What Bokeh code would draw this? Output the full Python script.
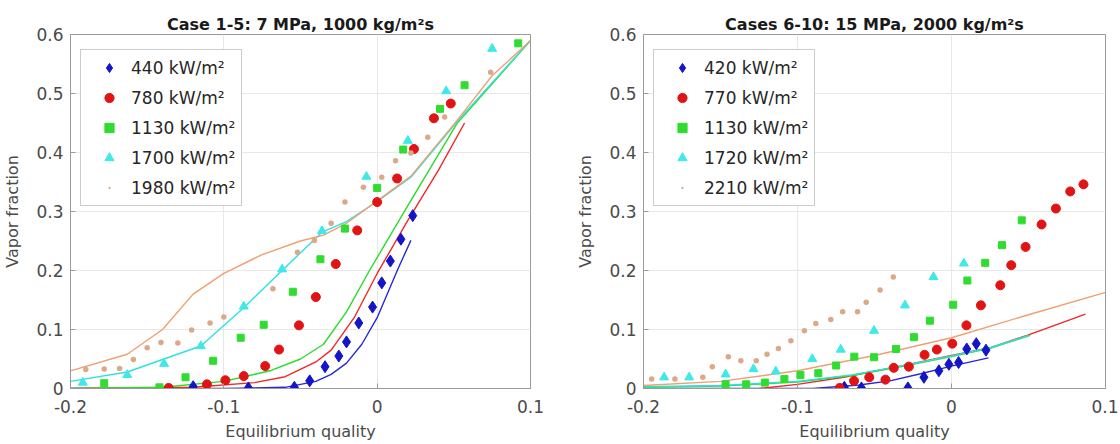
from bokeh.plotting import figure
from bokeh.layouts import row
from bokeh.models import Range1d, FixedTicker, CustomJSTickFormatter, Legend, LegendItem
from bokeh.embed import file_html
from bokeh.resources import INLINE

# ---------------- Left panel: Case 1-5 (7 MPa, 1000 kg/m2s) ----------------
L_title = "Case 1-5: 7 MPa, 1000 kg/m²s"
L_labels = ["440 kW/m²", "780 kW/m²", "1130 kW/m²", "1700 kW/m²", "1980 kW/m²"]

L_blue_x = [-0.120, -0.084, -0.054, -0.044, -0.034, -0.025, -0.020, -0.012, -0.003, 0.003, 0.0086, 0.0155, 0.0232]
L_blue_y = [0.003, 0.001, 0.002, 0.013, 0.037, 0.055, 0.079, 0.111, 0.138, 0.179, 0.216, 0.253, 0.293]
L_red_x = [-0.136, -0.111, -0.099, -0.087, -0.073, -0.064, -0.051, -0.040, -0.027, -0.013, 0.000, 0.013, 0.024, 0.037, 0.048]
L_red_y = [0.001, 0.007, 0.014, 0.021, 0.038, 0.066, 0.107, 0.155, 0.211, 0.268, 0.316, 0.356, 0.406, 0.458, 0.483]
L_green_x = [-0.178, -0.142, -0.125, -0.107, -0.089, -0.074, -0.055, -0.037, -0.021, 0.000, 0.017, 0.041, 0.057, 0.092]
L_green_y = [0.009, 0.002, 0.019, 0.047, 0.086, 0.108, 0.164, 0.219, 0.271, 0.340, 0.405, 0.474, 0.514, 0.585]
L_cyan_x = [-0.192, -0.163, -0.139, -0.115, -0.087, -0.062, -0.036, -0.007, 0.020, 0.045, 0.075]
L_cyan_y = [0.010, 0.023, 0.042, 0.072, 0.139, 0.202, 0.267, 0.359, 0.420, 0.504, 0.576]
L_tan_x = [-0.190, -0.178, -0.168, -0.159, -0.150, -0.141, -0.130, -0.121, -0.109, -0.100, -0.068, -0.052, -0.041, -0.030, -0.021, -0.009, 0.003, 0.012, 0.022, 0.033, 0.044, 0.074]
L_tan_y = [0.032, 0.033, 0.034, 0.049, 0.069, 0.078, 0.077, 0.099, 0.111, 0.121, 0.169, 0.231, 0.251, 0.280, 0.316, 0.341, 0.358, 0.386, 0.399, 0.426, 0.460, 0.536]

L_blue_line_x = [-0.2, -0.1, -0.06, -0.04, -0.03, -0.02, -0.01, 0.0, 0.0136, 0.022]
L_blue_line_y = [0.0, 0.0, 0.002, 0.012, 0.024, 0.043, 0.075, 0.12, 0.203, 0.251]
L_red_line_x = [-0.2, -0.12, -0.08, -0.06, -0.04, -0.03, -0.015, 0.0, 0.02, 0.04, 0.057]
L_red_line_y = [0.0, 0.002, 0.01, 0.02, 0.045, 0.065, 0.12, 0.195, 0.285, 0.37, 0.45]
L_green_line_x = [-0.2, -0.14, -0.1, -0.07, -0.05, -0.035, -0.02, -0.005, 0.02, 0.052, 0.1]
L_green_line_y = [0.0, 0.002, 0.012, 0.03, 0.05, 0.075, 0.13, 0.2, 0.31, 0.449, 0.59]
L_cyan_line_x = [-0.2, -0.163, -0.115, -0.087, -0.062, -0.036, -0.02, 0.0, 0.022, 0.052, 0.1]
L_cyan_line_y = [0.012, 0.028, 0.072, 0.137, 0.2, 0.265, 0.283, 0.317, 0.358, 0.452, 0.59]
L_tan_line_x = [-0.2, -0.163, -0.14, -0.12, -0.1, -0.075, -0.05, -0.035, -0.02, 0.0, 0.022, 0.052, 0.075, 0.1]
L_tan_line_y = [0.03, 0.058, 0.1, 0.16, 0.195, 0.227, 0.25, 0.26, 0.28, 0.318, 0.36, 0.454, 0.53, 0.59]

# ---------------- Right panel: Cases 6-10 (15 MPa, 2000 kg/m2s) ----------------
R_title = "Cases 6-10: 15 MPa, 2000 kg/m²s"
R_labels = ["420 kW/m²", "770 kW/m²", "1130 kW/m²", "1720 kW/m²", "2210 kW/m²"]

R_blue_x = [-0.0696, -0.0585, -0.0283, -0.0179, -0.0082, -0.0017, 0.0046, 0.0099, 0.0161, 0.0224]
R_blue_y = [0.002, 0.001, 0.001, 0.019, 0.030, 0.041, 0.044, 0.067, 0.076, 0.065]
R_red_x = [-0.0726, -0.0633, -0.0534, -0.0429, -0.0375, -0.0277, -0.0175, -0.0095, 0.0005, 0.0097, 0.0191, 0.0317, 0.0388, 0.0481, 0.0585, 0.0678, 0.0771, 0.0857]
R_red_y = [0.001, 0.013, 0.019, 0.015, 0.035, 0.037, 0.057, 0.066, 0.076, 0.107, 0.141, 0.175, 0.209, 0.240, 0.278, 0.305, 0.334, 0.346]
R_green_x = [-0.1467, -0.1333, -0.1212, -0.1085, -0.0981, -0.0865, -0.0749, -0.0631, -0.0503, -0.036, -0.0244, -0.014, 0.0011, 0.0103, 0.0219, 0.0328, 0.0456]
R_green_y = [0.007, 0.007, 0.010, 0.016, 0.023, 0.026, 0.039, 0.054, 0.053, 0.067, 0.087, 0.115, 0.142, 0.183, 0.213, 0.243, 0.285]
R_cyan_x = [-0.1866, -0.1703, -0.1467, -0.1286, -0.1141, -0.0904, -0.0719, -0.0503, -0.0302, -0.0117, 0.0080]
R_cyan_y = [0.019, 0.019, 0.024, 0.033, 0.029, 0.050, 0.066, 0.098, 0.141, 0.189, 0.212]
R_tan_x = [-0.1947, -0.1796, -0.1615, -0.1553, -0.1449, -0.1368, -0.1268, -0.1198, -0.1124, -0.1043, -0.0955, -0.0881, -0.0784, -0.0707, -0.0610, -0.0554, -0.0464, -0.0378]
R_tan_y = [0.016, 0.016, 0.019, 0.037, 0.054, 0.047, 0.047, 0.058, 0.068, 0.081, 0.098, 0.110, 0.117, 0.130, 0.130, 0.146, 0.167, 0.189]

R_blue_line_x = [-0.2, -0.09, -0.06, -0.04, -0.02, 0.0, 0.024]
R_blue_line_y = [0.0, 0.0, 0.006, 0.013, 0.025, 0.038, 0.052]
R_red_line_x = [-0.125, -0.1, -0.07, -0.035, 0.0, 0.025, 0.05, 0.087]
R_red_line_y = [0.0, 0.007, 0.019, 0.037, 0.056, 0.069, 0.091, 0.126]
R_green_line_x = [-0.2, -0.15, -0.1, -0.065, -0.035, 0.0, 0.025, 0.051]
R_green_line_y = [0.002, 0.004, 0.011, 0.022, 0.036, 0.054, 0.068, 0.09]
R_cyan_line_x = [-0.2, -0.15, -0.1, -0.065, -0.035, 0.0, 0.025, 0.05]
R_cyan_line_y = [0.003, 0.005, 0.012, 0.023, 0.037, 0.055, 0.069, 0.09]
R_tan_line_x = [-0.2, -0.15, -0.1, -0.05, 0.0, 0.05, 0.1]
R_tan_line_y = [0.005, 0.012, 0.03, 0.056, 0.086, 0.125, 0.163]

x_ticks = [-0.2, -0.1, 0.0, 0.1]
y_ticks = [0.0, 0.1, 0.2, 0.3, 0.4, 0.5, 0.6]

MARK_COLORS = ["#1414c8", "#e01414", "#30dc30", "#40e8e8", "#dca888"]
LINE_COLORS = ["#2828d8", "#f02828", "#28dc28", "#30e0e0", "#eea070"]
MARKERS = ["diamond", "circle", "square", "triangle", "dot"]
SIZES = [12, 9, 7, 9, 22]
FONT = "DejaVu Sans"
TXT = "#4a4a4a"
EDGE = "#9a9a9a"

fmt = CustomJSTickFormatter(code="return Math.abs(tick) < 1e-9 ? '0' : tick.toFixed(1);")


def panel(title, labels, pts, lines, width, bl, br):
    p = figure(width=width, height=444, output_backend="svg", toolbar_location=None,
               x_range=Range1d(-0.2, 0.1), y_range=Range1d(0, 0.6),
               min_border_left=bl, min_border_right=br, min_border_top=34, min_border_bottom=56)
    p.title.text = title
    p.title.align = "center"
    p.title.text_font = FONT
    p.title.text_font_size = "16px"
    p.title.text_font_style = "bold"
    p.title.text_color = "#1a1a1a"
    p.title.standoff = 1
    p.outline_line_color = EDGE
    p.outline_line_width = 1
    p.outline_line_alpha = 1
    for ax, ticks in ((p.xaxis[0], x_ticks), (p.yaxis[0], y_ticks)):
        ax.ticker = FixedTicker(ticks=ticks)
        ax.formatter = fmt
        ax.axis_line_color = EDGE
        ax.major_tick_line_color = EDGE
        ax.major_tick_in = 5
        ax.major_tick_out = 0
        ax.minor_tick_line_color = None
        ax.major_label_text_font = FONT
        ax.major_label_text_font_size = "17px"
        ax.major_label_text_color = TXT
        ax.axis_label_text_font = FONT
        ax.axis_label_text_font_size = "16px"
        ax.axis_label_text_font_style = "normal"
        ax.axis_label_text_color = TXT
    p.xaxis.axis_label = "Equilibrium quality"
    p.yaxis.axis_label = "Vapor fraction"
    p.xaxis.major_label_standoff = 11
    p.xaxis.axis_label_standoff = 6
    p.yaxis.major_label_standoff = 7
    p.yaxis.axis_label_standoff = 11
    p.xgrid.ticker = FixedTicker(ticks=x_ticks)
    p.ygrid.ticker = FixedTicker(ticks=y_ticks)
    p.grid.grid_line_color = "#e8e8e8"

    for (lx, ly), c in zip(lines, LINE_COLORS):
        p.line(lx, ly, line_color=c, line_width=1.4)

    items = []
    for (px, py), c, m, s, lab in zip(pts, MARK_COLORS, MARKERS, SIZES, labels):
        r = p.scatter(px, py, marker=m, size=s, fill_color=c, line_color=c, line_width=1)
        items.append(LegendItem(label=lab, renderers=[r]))

    leg = Legend(items=items, location=(10, 182), margin=0,
                 label_text_font=FONT, label_text_font_size="17px", label_text_color="#262626",
                 glyph_width=44, glyph_height=23, label_height=23, label_standoff=0,
                 padding=6, spacing=7, border_line_color=EDGE, border_line_width=1,
                 background_fill_color="white", background_fill_alpha=1)
    p.add_layout(leg, "center")
    return p


p1 = panel(L_title, L_labels,
           [(L_blue_x, L_blue_y), (L_red_x, L_red_y), (L_green_x, L_green_y), (L_cyan_x, L_cyan_y), (L_tan_x, L_tan_y)],
           [(L_blue_line_x, L_blue_line_y), (L_red_line_x, L_red_line_y), (L_green_line_x, L_green_line_y),
            (L_cyan_line_x, L_cyan_line_y), (L_tan_line_x, L_tan_line_y)],
           550, 68, 20)
p2 = panel(R_title, R_labels,
           [(R_blue_x, R_blue_y), (R_red_x, R_red_y), (R_green_x, R_green_y), (R_cyan_x, R_cyan_y), (R_tan_x, R_tan_y)],
           [(R_blue_line_x, R_blue_line_y), (R_red_line_x, R_red_line_y), (R_green_line_x, R_green_line_y),
            (R_cyan_line_x, R_cyan_line_y), (R_tan_line_x, R_tan_line_y)],
           568, 93, 13)

layout = row(p1, p2)
open("out.html", "w").write(file_html(layout, INLINE))
